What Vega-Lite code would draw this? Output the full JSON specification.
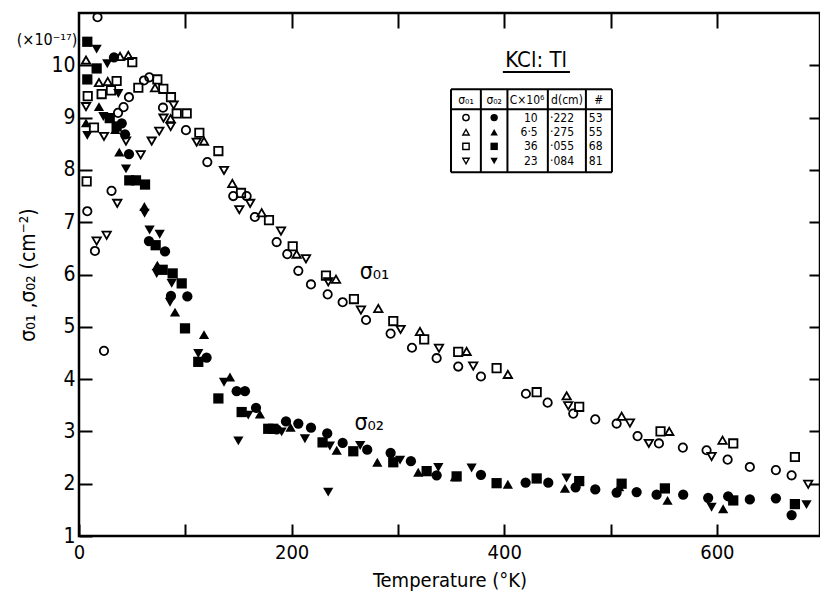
{
  "$schema": "https://vega.github.io/schema/vega-lite/v6.json",
  "width": 741,
  "height": 523,
  "autosize": {"type": "none"},
  "padding": {"left": 79, "top": 13, "right": 0, "bottom": 55},
  "background": "white",
  "config": {
    "view": {"stroke": "black", "strokeWidth": 2.5},
    "font": "DejaVu Sans Condensed, DejaVu Sans",
    "axis": {"labelFont": "DejaVu Sans Condensed, DejaVu Sans", "titleFont": "DejaVu Sans Condensed, DejaVu Sans", "labelColor": "black", "titleColor": "black", "tickColor": "black", "grid": false, "domain": false}
  },
  "datasets": {
    "pts": [
      {"T":7.8,"s":7.21,"k":"o","id":"53"},{"T":15.0,"s":6.45,"k":"o","id":"53"},{"T":17.4,"s":10.92,"k":"o","id":"53"},{"T":23.5,"s":4.54,"k":"o","id":"53"},{"T":30.6,"s":7.60,"k":"o","id":"53"},{"T":36.7,"s":9.09,"k":"o","id":"53"},{"T":41.9,"s":9.20,"k":"o","id":"53"},{"T":47.0,"s":9.39,"k":"o","id":"53"},{"T":61.1,"s":9.71,"k":"o","id":"53"},{"T":66.1,"s":9.77,"k":"o","id":"53"},{"T":79,"s":9.19,"k":"o","id":"53"},{"T":100.6,"s":8.76,"k":"o","id":"53"},{"T":120.7,"s":8.15,"k":"o","id":"53"},{"T":145.1,"s":7.50,"k":"o","id":"53"},{"T":157.7,"s":7.50,"k":"o","id":"53"},{"T":165.4,"s":7.10,"k":"o","id":"53"},{"T":185.9,"s":6.62,"k":"o","id":"53"},{"T":195.9,"s":6.39,"k":"o","id":"53"},{"T":206.3,"s":6.07,"k":"o","id":"53"},{"T":218.2,"s":5.81,"k":"o","id":"53"},{"T":233.9,"s":5.62,"k":"o","id":"53"},{"T":248,"s":5.47,"k":"o","id":"53"},{"T":270,"s":5.13,"k":"o","id":"53"},{"T":293.1,"s":4.87,"k":"o","id":"53"},{"T":313.2,"s":4.60,"k":"o","id":"53"},{"T":336.4,"s":4.40,"k":"o","id":"53"},{"T":356.7,"s":4.24,"k":"o","id":"53"},{"T":378.1,"s":4.05,"k":"o","id":"53"},{"T":420.4,"s":3.72,"k":"o","id":"53"},{"T":440.8,"s":3.55,"k":"o","id":"53"},{"T":464.9,"s":3.34,"k":"o","id":"53"},{"T":485.6,"s":3.23,"k":"o","id":"53"},{"T":505.7,"s":3.15,"k":"o","id":"53"},{"T":525.4,"s":2.91,"k":"o","id":"53"},{"T":545.5,"s":2.77,"k":"o","id":"53"},{"T":568,"s":2.69,"k":"o","id":"53"},{"T":590.3,"s":2.64,"k":"o","id":"53"},{"T":610.1,"s":2.46,"k":"o","id":"53"},{"T":631,"s":2.32,"k":"o","id":"53"},{"T":655.5,"s":2.26,"k":"o","id":"53"},{"T":670.3,"s":2.16,"k":"o","id":"53"},
      {"T":6.6,"s":10.10,"k":"o","id":"55"},{"T":18.8,"s":9.67,"k":"o","id":"55"},{"T":27,"s":9.69,"k":"o","id":"55"},{"T":38.6,"s":10.17,"k":"o","id":"55"},{"T":46.4,"s":10.19,"k":"o","id":"55"},{"T":71.5,"s":9.57,"k":"o","id":"55"},{"T":86.2,"s":8.98,"k":"o","id":"55"},{"T":117.6,"s":8.55,"k":"o","id":"55"},{"T":144.2,"s":7.74,"k":"o","id":"55"},{"T":171.8,"s":7.18,"k":"o","id":"55"},{"T":204.7,"s":6.39,"k":"o","id":"55"},{"T":241.7,"s":5.91,"k":"o","id":"55"},{"T":281.5,"s":5.35,"k":"o","id":"55"},{"T":320.7,"s":4.91,"k":"o","id":"55"},{"T":364.6,"s":4.53,"k":"o","id":"55"},{"T":403.4,"s":4.09,"k":"o","id":"55"},{"T":458.7,"s":3.68,"k":"o","id":"55"},{"T":510.4,"s":3.29,"k":"o","id":"55"},{"T":555.2,"s":3.00,"k":"o","id":"55"},{"T":605.3,"s":2.83,"k":"o","id":"55"},
      {"T":7.2,"s":7.78,"k":"o","id":"68"},{"T":8.2,"s":9.41,"k":"o","id":"68"},{"T":14.1,"s":8.81,"k":"o","id":"68"},{"T":21.3,"s":9.45,"k":"o","id":"68"},{"T":30.1,"s":9.52,"k":"o","id":"68"},{"T":35.4,"s":9.70,"k":"o","id":"68"},{"T":50.1,"s":10.06,"k":"o","id":"68"},{"T":55.8,"s":9.57,"k":"o","id":"68"},{"T":73.7,"s":9.73,"k":"o","id":"68"},{"T":79.3,"s":9.55,"k":"o","id":"68"},{"T":86.5,"s":9.39,"k":"o","id":"68"},{"T":91.9,"s":9.08,"k":"o","id":"68"},{"T":101.3,"s":9.08,"k":"o","id":"68"},{"T":113.2,"s":8.71,"k":"o","id":"68"},{"T":131.1,"s":8.36,"k":"o","id":"68"},{"T":152.4,"s":7.56,"k":"o","id":"68"},{"T":178.7,"s":7.04,"k":"o","id":"68"},{"T":201,"s":6.54,"k":"o","id":"68"},{"T":232.3,"s":5.98,"k":"o","id":"68"},{"T":258.6,"s":5.53,"k":"o","id":"68"},{"T":295.6,"s":5.11,"k":"o","id":"68"},{"T":324.7,"s":4.76,"k":"o","id":"68"},{"T":356.7,"s":4.52,"k":"o","id":"68"},{"T":392.8,"s":4.21,"k":"o","id":"68"},{"T":430.5,"s":3.75,"k":"o","id":"68"},{"T":470.5,"s":3.47,"k":"o","id":"68"},{"T":547,"s":3.00,"k":"o","id":"68"},{"T":615.4,"s":2.77,"k":"o","id":"68"},{"T":673.4,"s":2.51,"k":"o","id":"68"},
      {"T":6.6,"s":9.21,"k":"o","id":"81"},{"T":23.5,"s":8.64,"k":"o","id":"81"},{"T":16.6,"s":6.64,"k":"o","id":"81"},{"T":26,"s":6.75,"k":"o","id":"81"},{"T":36,"s":7.36,"k":"o","id":"81"},{"T":44.2,"s":8.55,"k":"o","id":"81"},{"T":58,"s":8.29,"k":"o","id":"81"},{"T":68.4,"s":8.55,"k":"o","id":"81"},{"T":75.5,"s":8.74,"k":"o","id":"81"},{"T":79.5,"s":8.99,"k":"o","id":"81"},{"T":86.2,"s":8.83,"k":"o","id":"81"},{"T":89,"s":9.24,"k":"o","id":"81"},{"T":110.7,"s":8.53,"k":"o","id":"81"},{"T":136.4,"s":7.99,"k":"o","id":"81"},{"T":150.8,"s":7.24,"k":"o","id":"81"},{"T":161,"s":7.36,"k":"o","id":"81"},{"T":190,"s":6.83,"k":"o","id":"81"},{"T":213.5,"s":6.30,"k":"o","id":"81"},{"T":234.5,"s":5.86,"k":"o","id":"81"},{"T":265.2,"s":5.32,"k":"o","id":"81"},{"T":302.5,"s":4.95,"k":"o","id":"81"},{"T":338.6,"s":4.59,"k":"o","id":"81"},{"T":370.8,"s":4.25,"k":"o","id":"81"},{"T":460.2,"s":3.49,"k":"o","id":"81"},{"T":518.2,"s":3.16,"k":"o","id":"81"},{"T":536,"s":2.77,"k":"o","id":"81"},{"T":595,"s":2.52,"k":"o","id":"81"},{"T":685.9,"s":1.99,"k":"o","id":"81"},
      {"T":32.9,"s":10.15,"k":"f","id":"53"},{"T":40.2,"s":8.89,"k":"f","id":"53"},{"T":43.3,"s":8.68,"k":"f","id":"53"},{"T":47,"s":8.30,"k":"f","id":"53"},{"T":65.8,"s":6.64,"k":"f","id":"53"},{"T":80.9,"s":6.44,"k":"f","id":"53"},{"T":86.5,"s":5.59,"k":"f","id":"53"},{"T":101.9,"s":5.58,"k":"f","id":"53"},{"T":120,"s":4.41,"k":"f","id":"53"},{"T":148.3,"s":3.77,"k":"f","id":"53"},{"T":156.1,"s":3.77,"k":"f","id":"53"},{"T":166.5,"s":3.45,"k":"f","id":"53"},{"T":185.9,"s":3.04,"k":"f","id":"53"},{"T":194.7,"s":3.19,"k":"f","id":"53"},{"T":206.3,"s":3.15,"k":"f","id":"53"},{"T":218.2,"s":3.07,"k":"f","id":"53"},{"T":233.5,"s":2.96,"k":"f","id":"53"},{"T":248,"s":2.78,"k":"f","id":"53"},{"T":271.1,"s":2.65,"k":"f","id":"53"},{"T":293.1,"s":2.59,"k":"f","id":"53"},{"T":312.2,"s":2.43,"k":"f","id":"53"},{"T":336.4,"s":2.16,"k":"f","id":"53"},{"T":378.1,"s":2.17,"k":"f","id":"53"},{"T":420.1,"s":2.02,"k":"f","id":"53"},{"T":441.4,"s":2.02,"k":"f","id":"53"},{"T":467.1,"s":1.93,"k":"f","id":"53"},{"T":485.6,"s":1.89,"k":"f","id":"53"},{"T":505.7,"s":1.83,"k":"f","id":"53"},{"T":524.5,"s":1.84,"k":"f","id":"53"},{"T":543.3,"s":1.79,"k":"f","id":"53"},{"T":568.3,"s":1.79,"k":"f","id":"53"},{"T":591.8,"s":1.73,"k":"f","id":"53"},{"T":610.6,"s":1.76,"k":"f","id":"53"},{"T":631,"s":1.70,"k":"f","id":"53"},{"T":655.5,"s":1.72,"k":"f","id":"53"},{"T":670.3,"s":1.40,"k":"f","id":"53"},
      {"T":6.6,"s":8.90,"k":"f","id":"55"},{"T":18.8,"s":9.21,"k":"f","id":"55"},{"T":34.1,"s":8.77,"k":"f","id":"55"},{"T":37.9,"s":8.34,"k":"f","id":"55"},{"T":61.5,"s":7.30,"k":"f","id":"55"},{"T":73.7,"s":6.18,"k":"f","id":"55"},{"T":90.3,"s":5.28,"k":"f","id":"55"},{"T":117.6,"s":4.85,"k":"f","id":"55"},{"T":142,"s":4.04,"k":"f","id":"55"},{"T":170.2,"s":3.33,"k":"f","id":"55"},{"T":199,"s":3.08,"k":"f","id":"55"},{"T":242.4,"s":2.64,"k":"f","id":"55"},{"T":280.6,"s":2.41,"k":"f","id":"55"},{"T":319.1,"s":2.22,"k":"f","id":"55"},{"T":353.6,"s":2.13,"k":"f","id":"55"},{"T":403.4,"s":1.99,"k":"f","id":"55"},{"T":457.1,"s":1.91,"k":"f","id":"55"},{"T":508.1,"s":1.94,"k":"f","id":"55"},{"T":553.6,"s":1.68,"k":"f","id":"55"},{"T":605.9,"s":1.52,"k":"f","id":"55"},
      {"T":7.8,"s":10.45,"k":"f","id":"68"},{"T":16.6,"s":9.94,"k":"f","id":"68"},{"T":7.8,"s":9.73,"k":"f","id":"68"},{"T":28.9,"s":8.99,"k":"f","id":"68"},{"T":35.4,"s":8.83,"k":"f","id":"68"},{"T":47.3,"s":7.80,"k":"f","id":"68"},{"T":53.6,"s":7.80,"k":"f","id":"68"},{"T":62.1,"s":7.72,"k":"f","id":"68"},{"T":72.1,"s":6.56,"k":"f","id":"68"},{"T":78.7,"s":6.09,"k":"f","id":"68"},{"T":88.1,"s":6.02,"k":"f","id":"68"},{"T":96.6,"s":5.83,"k":"f","id":"68"},{"T":99.7,"s":4.97,"k":"f","id":"68"},{"T":112.2,"s":4.33,"k":"f","id":"68"},{"T":131.1,"s":3.63,"k":"f","id":"68"},{"T":153,"s":3.37,"k":"f","id":"68"},{"T":178,"s":3.05,"k":"f","id":"68"},{"T":182.7,"s":3.05,"k":"f","id":"68"},{"T":229.1,"s":2.79,"k":"f","id":"68"},{"T":258,"s":2.62,"k":"f","id":"68"},{"T":295.6,"s":2.41,"k":"f","id":"68"},{"T":327,"s":2.24,"k":"f","id":"68"},{"T":355.2,"s":2.14,"k":"f","id":"68"},{"T":392.8,"s":2.01,"k":"f","id":"68"},{"T":430.5,"s":2.10,"k":"f","id":"68"},{"T":470.5,"s":2.05,"k":"f","id":"68"},{"T":510.4,"s":2.00,"k":"f","id":"68"},{"T":551.1,"s":1.91,"k":"f","id":"68"},{"T":615.4,"s":1.68,"k":"f","id":"68"},{"T":673.4,"s":1.61,"k":"f","id":"68"},
      {"T":16.6,"s":10.31,"k":"f","id":"81"},{"T":26.6,"s":10.03,"k":"f","id":"81"},{"T":7.8,"s":8.66,"k":"f","id":"81"},{"T":22.9,"s":9.02,"k":"f","id":"81"},{"T":37,"s":9.46,"k":"f","id":"81"},{"T":44.2,"s":8.02,"k":"f","id":"81"},{"T":61.7,"s":7.17,"k":"f","id":"81"},{"T":66.4,"s":6.85,"k":"f","id":"81"},{"T":75.9,"s":6.77,"k":"f","id":"81"},{"T":73.1,"s":6.02,"k":"f","id":"81"},{"T":87.2,"s":5.83,"k":"f","id":"81"},{"T":85.6,"s":5.47,"k":"f","id":"81"},{"T":112.2,"s":4.49,"k":"f","id":"81"},{"T":136.4,"s":3.94,"k":"f","id":"81"},{"T":149.9,"s":2.82,"k":"f","id":"81"},{"T":159.2,"s":3.31,"k":"f","id":"81"},{"T":190.6,"s":2.99,"k":"f","id":"81"},{"T":212.5,"s":2.86,"k":"f","id":"81"},{"T":234.4,"s":1.84,"k":"f","id":"81"},{"T":236,"s":2.72,"k":"f","id":"81"},{"T":264.5,"s":2.73,"k":"f","id":"81"},{"T":302,"s":2.45,"k":"f","id":"81"},{"T":338,"s":2.31,"k":"f","id":"81"},{"T":369.3,"s":2.30,"k":"f","id":"81"},{"T":458.6,"s":2.11,"k":"f","id":"81"},{"T":595,"s":1.55,"k":"f","id":"81"},{"T":684.3,"s":1.60,"k":"f","id":"81"}
    ],
    "legsym": [
      {"T":364,"s":9.0,"k":"o","id":"53"},{"T":364,"s":8.72,"k":"o","id":"55"},{"T":364,"s":8.45,"k":"o","id":"68"},{"T":364,"s":8.17,"k":"o","id":"81"},
      {"T":390.5,"s":9.0,"k":"f","id":"53"},{"T":390.5,"s":8.72,"k":"f","id":"55"},{"T":390.5,"s":8.45,"k":"f","id":"68"},{"T":390.5,"s":8.17,"k":"f","id":"81"}
    ],
    "lines": [
      {"T":349.9,"T2":501.3,"s":9.541,"s2":9.541},
      {"T":349.9,"T2":501.3,"s":9.159,"s2":9.159},
      {"T":349.9,"T2":501.3,"s":7.954,"s2":7.954},
      {"T":349.9,"T2":349.9,"s":7.954,"s2":9.541},
      {"T":378,"T2":378,"s":7.954,"s2":9.541},
      {"T":403,"T2":403,"s":7.954,"s2":9.541},
      {"T":441,"T2":441,"s":7.954,"s2":9.541},
      {"T":476.8,"T2":476.8,"s":7.954,"s2":9.541},
      {"T":501.3,"T2":501.3,"s":7.954,"s2":9.541},
      {"T":398.7,"T2":461.8,"s":9.87,"s2":9.87}
    ],
    "head": [
      {"T":364,"s":9.34,"txt":"σ₀₁"},{"T":390.5,"s":9.34,"txt":"σ₀₂"},{"T":421.5,"s":9.34,"txt":"C×10⁶"},{"T":459,"s":9.34,"txt":"d(cm)"},{"T":489,"s":9.34,"txt":"#"}
    ],
    "cvals": [
      {"T":431.5,"s":9.0,"txt":"10"},{"T":431.5,"s":8.72,"txt":"6·5"},{"T":431.5,"s":8.45,"txt":"36"},{"T":431.5,"s":8.17,"txt":"23"}
    ],
    "dvals": [
      {"T":443,"s":9.0,"txt":"·222"},{"T":443,"s":8.72,"txt":"·275"},{"T":443,"s":8.45,"txt":"·055"},{"T":443,"s":8.17,"txt":"·084"},
      {"T":479.5,"s":9.0,"txt":"53"},{"T":479.5,"s":8.72,"txt":"55"},{"T":479.5,"s":8.45,"txt":"68"},{"T":479.5,"s":8.17,"txt":"81"}
    ]
  },
  "layer": [
    {
      "data": {"name": "pts"},
      "transform": [{"filter": "datum.k == 'o'"}],
      "mark": {"type": "point", "filled": false, "color": "black", "strokeWidth": 1.8, "size": 70, "opacity": 1},
      "encoding": {
        "x": {"field": "T", "type": "quantitative", "scale": {"domain": [0, 697], "nice": false, "zero": false},
          "axis": {"orient": "bottom", "values": [0, 100, 200, 300, 400, 500, 600], "labelExpr": "datum.value % 200 == 0 ? datum.label : ''", "tickSize": -12, "tickWidth": 2, "labelFontSize": 20, "labelPadding": 18, "labelFlush": false, "labelOverlap": false, "title": "Temperature (°K)", "titleFontSize": 20, "titleFontWeight": "normal", "titlePadding": 8}},
        "y": {"field": "s", "type": "quantitative", "scale": {"domain": [1, 11], "nice": false, "zero": false},
          "axis": {"orient": "left", "values": [1, 2, 3, 4, 5, 6, 7, 8, 9, 10], "tickSize": -13, "tickWidth": 2, "labelFontSize": 21, "labelPadding": 17, "labelOverlap": false, "title": "σ₀₁ ,σ₀₂ (cm⁻²)", "titleFontSize": 21, "titleFontWeight": "normal", "titlePadding": 12}},
        "shape": {"field": "id", "type": "nominal", "scale": {"domain": ["53", "55", "68", "81"], "range": ["circle", "triangle-up", "square", "triangle-down"]}, "legend": null}
      }
    },
    {
      "data": {"name": "pts"},
      "transform": [{"filter": "datum.k == 'f'"}],
      "mark": {"type": "point", "filled": true, "color": "black", "size": 105, "opacity": 1},
      "encoding": {
        "x": {"field": "T", "type": "quantitative",
          "axis": {"orient": "top", "values": [100, 200, 300, 400, 500, 600], "tickSize": -15, "tickWidth": 2, "labels": false, "title": null}},
        "y": {"field": "s", "type": "quantitative",
          "axis": {"orient": "right", "values": [2, 3, 4, 5, 6, 7, 8, 9, 10], "tickSize": -11, "tickWidth": 2, "labels": false, "title": null}},
        "shape": {"field": "id", "type": "nominal", "legend": null}
      }
    },
    {
      "data": {"name": "legsym"},
      "transform": [{"filter": "datum.k == 'o'"}],
      "mark": {"type": "point", "filled": false, "color": "black", "strokeWidth": 1.4, "size": 40, "opacity": 1},
      "encoding": {
        "x": {"field": "T", "type": "quantitative", "axis": null},
        "y": {"field": "s", "type": "quantitative", "axis": null},
        "shape": {"field": "id", "type": "nominal", "legend": null}
      }
    },
    {
      "data": {"name": "legsym"},
      "transform": [{"filter": "datum.k == 'f'"}],
      "mark": {"type": "point", "filled": true, "color": "black", "size": 55, "opacity": 1},
      "encoding": {
        "x": {"field": "T", "type": "quantitative", "axis": null},
        "y": {"field": "s", "type": "quantitative", "axis": null},
        "shape": {"field": "id", "type": "nominal", "legend": null}
      }
    },
    {
      "data": {"name": "lines"},
      "mark": {"type": "rule", "color": "black", "strokeWidth": 2},
      "encoding": {
        "x": {"field": "T", "type": "quantitative", "axis": null},
        "x2": {"field": "T2"},
        "y": {"field": "s", "type": "quantitative", "axis": null},
        "y2": {"field": "s2"}
      }
    },
    {
      "data": {"name": "head"},
      "mark": {"type": "text", "fontSize": 12, "color": "black", "align": "center", "baseline": "middle"},
      "encoding": {
        "x": {"field": "T", "type": "quantitative", "axis": null},
        "y": {"field": "s", "type": "quantitative", "axis": null},
        "text": {"field": "txt"}
      }
    },
    {
      "data": {"name": "cvals"},
      "mark": {"type": "text", "fontSize": 12, "color": "black", "align": "right", "baseline": "middle"},
      "encoding": {
        "x": {"field": "T", "type": "quantitative", "axis": null},
        "y": {"field": "s", "type": "quantitative", "axis": null},
        "text": {"field": "txt"}
      }
    },
    {
      "data": {"name": "dvals"},
      "mark": {"type": "text", "fontSize": 12, "color": "black", "align": "left", "baseline": "middle"},
      "encoding": {
        "x": {"field": "T", "type": "quantitative", "axis": null},
        "y": {"field": "s", "type": "quantitative", "axis": null},
        "text": {"field": "txt"}
      }
    },
    {
      "data": {"values": [{"T": 430, "s": 10.1, "txt": "KCl: Tl"}]},
      "mark": {"type": "text", "fontSize": 22, "color": "black", "align": "center", "baseline": "middle"},
      "encoding": {
        "x": {"field": "T", "type": "quantitative", "axis": null},
        "y": {"field": "s", "type": "quantitative", "axis": null},
        "text": {"field": "txt"}
      }
    },
    {
      "data": {"values": [{"T": 278, "s": 6.04, "txt": "σ₀₁"}, {"T": 273, "s": 3.17, "txt": "σ₀₂"}]},
      "mark": {"type": "text", "fontSize": 23, "color": "black", "align": "center", "baseline": "middle"},
      "encoding": {
        "x": {"field": "T", "type": "quantitative", "axis": null},
        "y": {"field": "s", "type": "quantitative", "axis": null},
        "text": {"field": "txt"}
      }
    },
    {
      "data": {"values": [{"T": -30, "s": 10.48, "txt": "(×10⁻¹⁷)"}]},
      "mark": {"type": "text", "fontSize": 16, "color": "black", "align": "center", "baseline": "middle"},
      "encoding": {
        "x": {"field": "T", "type": "quantitative", "axis": null},
        "y": {"field": "s", "type": "quantitative", "axis": null},
        "text": {"field": "txt"}
      }
    }
  ],
  "resolve": {"axis": {"x": "independent", "y": "independent"}}
}
